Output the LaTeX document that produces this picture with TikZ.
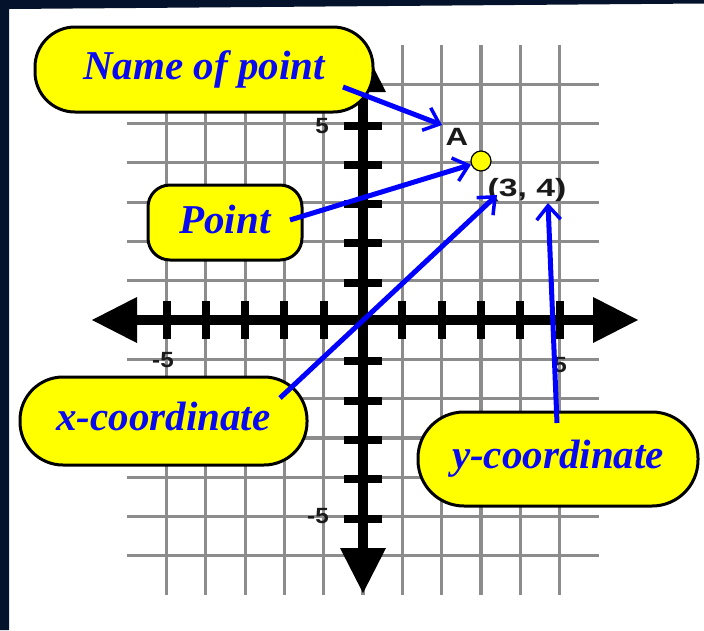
\documentclass[tikz,border=0pt]{standalone}
\usepackage{fontspec}
\usepackage{graphicx}
\setmainfont{Liberation Serif}
\newfontfamily\labfont{Liberation Sans}
\usetikzlibrary{arrows.meta}
\definecolor{navy}{HTML}{04132B}
\definecolor{gridgray}{HTML}{8C8C8C}
\definecolor{textblue}{HTML}{0A0AF0}
\definecolor{arrowblue}{HTML}{0000FF}
\definecolor{boxyellow}{HTML}{FFFF00}
\definecolor{labgray}{HTML}{1A1A1A}
\newcommand\cofont{\fontsize{41}{45}\selectfont\bfseries\itshape}
\newcommand\axfont{\labfont\fontsize{22}{25}\selectfont\bfseries}
\newcommand\ptfont{\labfont\fontsize{25}{28}\selectfont\bfseries}
\begin{document}
\begin{tikzpicture}[x=1pt,y=-1pt,
  gridline/.style={gridgray, line width=3.2pt},
  axisline/.style={black, line width=10pt},
  tickmark/.style={black, line width=8pt},
  axishead/.style={fill=black, draw=none},
  callout/.style={rectangle, draw=black, line width=3pt, fill=boxyellow,
    text=textblue, font=\cofont, inner sep=0pt},
  axlabel/.style={text=labgray, font=\axfont, inner sep=0pt},
  ptlabel/.style={text=labgray, font=\ptfont, inner sep=0pt},
  bluearrow/.style={arrowblue, line width=5pt,
    -{Straight Barb[length=14pt,width=24pt,line width=3.5pt]}}
]
\useasboundingbox (0,0) rectangle (704,630);
\fill[white] (0,0) rectangle (704,630);
\fill[navy] (0,0) -- (704,0) -- (704,3.5) -- (9,9) -- (9,630) -- (0,630) -- cycle;

% grid
\foreach \i in {-5,...,5} {
  \draw[gridline] ({363+39.3*\i},45) -- ({363+39.3*\i},595);
}
\foreach \j in {-6,...,6} {
  \draw[gridline] (127,{320-39.3*\j}) -- (599,{320-39.3*\j});
}

% axes
\draw[axisline] (132,320) -- (596,320);
\draw[axisline] (363,88) -- (363,552);
\fill[axishead] (92,320) -- (137,297) -- (137,343) -- cycle;
\fill[axishead] (638,320) -- (593,297) -- (593,343) -- cycle;
\fill[axishead] (363,47) -- (340,92) -- (386,92) -- cycle;
\fill[axishead] (363,593) -- (340,548) -- (386,548) -- cycle;
\foreach \i in {-5,...,-1,1,2,...,5} {
  \draw[tickmark] ({363+39.3*\i},301) -- ({363+39.3*\i},339);
  \draw[tickmark] (344,{322-39.3*\i}) -- (382,{322-39.3*\i});
}

% axis labels
\node[axlabel] (ly5) at (322,126) {\scalebox{1.1}[1]{5}};
\node[axlabel] (lym5) at (318,516) {\scalebox{1.1}[1]{-5}};
\node[axlabel] (lxm5) at (163,360) {\scalebox{1.1}[1]{-5}};
\node[axlabel] (lx5) at (560,365) {\scalebox{1.1}[1]{5}};

% point
\node[circle, fill=boxyellow, draw=black, line width=1.2pt, minimum size=20pt, inner sep=0pt] (P) at (481,161) {};
\node[ptlabel] (A) at (457,137) {\scalebox{1.25}[1]{A}};
\node[ptlabel] (coord) at (527,190) {\scalebox{1.35}[1]{(3, 4)}};

% callouts
\node[callout, rounded corners=40pt, minimum width=338pt, minimum height=85pt] (name) at (204,69.5) {Name of point};
\node[callout, rounded corners=22pt, minimum width=154pt, minimum height=75pt, text depth=7pt] (pt) at (225,222.5) {Point};
\node[callout, rounded corners=43pt, minimum width=287pt, minimum height=88pt, text depth=9pt] (xc) at (163.5,421) {x-coordinate};
\node[callout, rounded corners=46pt, minimum width=280pt, minimum height=94pt] (yc) at (558,459) {y-coordinate};

% connectors
\coordinate (nS) at (343,87);
\coordinate (nT) at (442,125);
\coordinate (pS) at (290,220);
\coordinate (xS) at (280,398);
\coordinate (xT) at (497,195);
\coordinate (yS) at (557,423);
\coordinate (yT) at (548,203);
\draw[bluearrow] (nS) -- (nT);
\draw[bluearrow] (pS) -- (P.200);
\draw[bluearrow] (xS) -- (xT);
\draw[bluearrow] (yS) -- (yT);
\end{tikzpicture}
\end{document}
